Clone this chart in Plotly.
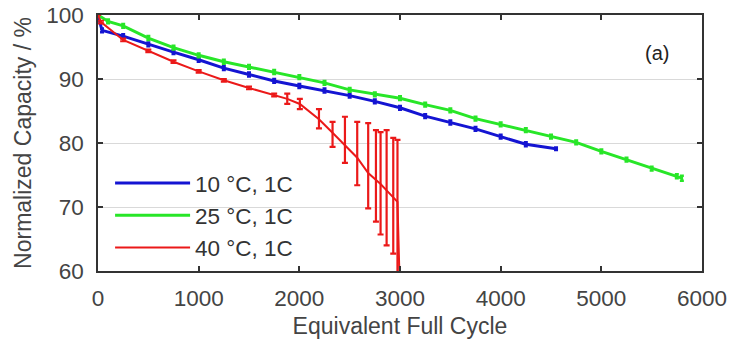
import plotly.graph_objects as go

# ---- data ----
blue_x = [0, 40, 250, 500, 750, 1000, 1250, 1500, 1750, 2000, 2250, 2500, 2750, 3000, 3250, 3500, 3750, 4000, 4250, 4550]
blue_y = [100, 97.6, 96.7, 95.4, 94.2, 93.0, 91.7, 90.7, 89.7, 88.9, 88.2, 87.4, 86.5, 85.5, 84.2, 83.2, 82.2, 81.0, 79.8, 79.1]
blue_err = [0.0, 0.3, 0.3, 0.3, 0.3, 0.3, 0.3, 0.3, 0.3, 0.3, 0.3, 0.3, 0.3, 0.3, 0.3, 0.3, 0.3, 0.3, 0.3, 0.2]

green_x = [0, 100, 250, 500, 750, 1000, 1250, 1500, 1750, 2000, 2250, 2500, 2750, 3000, 3250, 3500, 3750, 4000, 4250, 4500, 4750, 5000, 5250, 5500, 5750, 5800]
green_y = [100, 99.0, 98.3, 96.4, 94.9, 93.7, 92.7, 91.9, 91.1, 90.3, 89.4, 88.3, 87.6, 87.0, 86.0, 85.1, 83.8, 82.9, 82.0, 81.0, 80.1, 78.7, 77.4, 76.0, 74.8, 74.5]
green_err = [0.0] + [0.3] * 24 + [0.4]

red_x = [0, 30, 250, 500, 750, 1000, 1250, 1500, 1750, 1880, 2005, 2195, 2330, 2453, 2575, 2684, 2761, 2807, 2867, 2933, 2975, 3000]
red_y = [100, 98.9, 96.1, 94.4, 92.7, 91.2, 89.8, 88.6, 87.5, 86.9, 86.1, 83.7, 81.6, 79.7, 77.7, 75.3, 74.3, 73.6, 72.6, 71.5, 70.8, 56.0]
red_err_plus = [0.0, 0.2, 0.2, 0.2, 0.2, 0.2, 0.2, 0.2, 0.2, 0.8, 0.8, 1.6, 1.7, 4.4, 5.6, 7.8, 7.7, 8.1, 9.4, 9.3, 9.7, 0.0]
red_err_minus = [0.0, 0.2, 0.2, 0.2, 0.2, 0.2, 0.2, 0.2, 0.2, 0.8, 0.8, 1.4, 2.2, 2.8, 4.3, 5.5, 6.6, 7.9, 8.6, 8.8, 12.0, 0.0]

names = ["10 °C, 1C", "25 °C, 1C", "40 °C, 1C"]
colors = ["rgb(20,20,210)", "rgb(40,230,40)", "rgb(235,25,25)"]

x_ticks = [0, 1000, 2000, 3000, 4000, 5000, 6000]
y_ticks = [60, 70, 80, 90, 100]

FONT = "Liberation Sans, Arial, sans-serif"

fig = go.Figure()
fig.add_trace(go.Scatter(
    x=blue_x, y=blue_y, mode="lines", name=names[0],
    line=dict(color=colors[0], width=3),
    error_y=dict(type="data", array=blue_err, color=colors[0], thickness=2.5, width=2),
))
fig.add_trace(go.Scatter(
    x=green_x, y=green_y, mode="lines", name=names[1],
    line=dict(color=colors[1], width=3),
    error_y=dict(type="data", array=green_err, color=colors[1], thickness=2.5, width=2),
))
fig.add_trace(go.Scatter(
    x=red_x, y=red_y, mode="lines", name=names[2],
    line=dict(color=colors[2], width=2),
    error_y=dict(type="data", symmetric=False, array=red_err_plus, arrayminus=red_err_minus,
                 color=colors[2], thickness=2.2, width=3),
))

axis_common = dict(
    showline=True, linecolor="#333333", linewidth=1.5, mirror="ticks",
    ticks="inside", ticklen=5, tickwidth=1.5, tickcolor="#333333",
    tickfont=dict(family=FONT, size=22.5, color="#444444"),
    zeroline=False,
)

fig.update_xaxes(
    range=[0, 6000], tickvals=x_ticks, showgrid=False, automargin=True,
    title=dict(text="Equivalent Full Cycle", font=dict(family=FONT, size=23, color="#444444"), standoff=8),
    ticklabelstandoff=6,
    **axis_common,
)
fig.update_yaxes(
    range=[60, 100], tickvals=y_ticks, showgrid=True, gridcolor="#d9d9d9", gridwidth=1, automargin=False,
    title=dict(text="Normalized Capacity / %", font=dict(family=FONT, size=23, color="#444444"), standoff=8),
    ticklabelstandoff=8,
    **axis_common,
)

fig.add_annotation(
    text="(a)", xref="x domain", yref="y domain", x=0.925, y=0.852,
    xanchor="center", yanchor="middle",
    showarrow=False, font=dict(family=FONT, size=20, color="#222222"),
)

fig.update_layout(
    width=731, height=345,
    margin=dict(l=98, r=29, t=15, b=74, autoexpand=False),
    paper_bgcolor="white", plot_bgcolor="white",
    showlegend=True,
    legend=dict(
        x=0.02, y=0.426, xanchor="left", yanchor="top",
        bgcolor="rgba(0,0,0,0)", borderwidth=0,
        font=dict(family=FONT, size=22.5, color="#333333"),
        itemwidth=75, tracegroupgap=0,
    ),
)

fig.write_html("out.html")
